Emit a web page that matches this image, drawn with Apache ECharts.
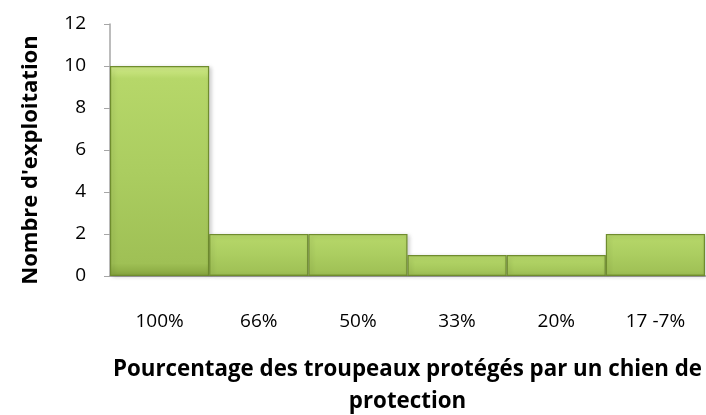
<!DOCTYPE html>
<html><head><meta charset="utf-8">
<script src="https://cdn.jsdelivr.net/npm/echarts@6/dist/echarts.min.js"></script>
<style>html,body{margin:0;padding:0;background:#fff}#c{width:706px;height:415px}</style>
</head><body><div id="c"></div>
<script>
const categories = ['100%', '66%', '50%', '33%', '20%', '17 -7%'];
const values = [10, 2, 2, 1, 1, 2];
const yTicks = [0, 2, 4, 6, 8, 10, 12];
const xTitle = 'Pourcentage des troupeaux protégés par un chien de\nprotection';
const yTitle = "Nombre d'exploitation";

const chart = echarts.init(document.getElementById('c'));
const font = "'Open Sans', 'Noto Sans', sans-serif";
chart.setOption({
  animation: false,
  grid: { left: 110, right: 1, top: 24, bottom: 139, containLabel: false, outerBoundsMode: 'none' },
  xAxis: {
    type: 'category', data: categories,
    axisLine: { lineStyle: { color: '#a6a6a6', width: 2 } },
    axisTick: { show: false },
    axisLabel: { color: '#000', fontSize: 19, fontFamily: font, margin: 36 },
    name: xTitle, nameLocation: 'middle', nameGap: 78,
    nameTextStyle: { color: '#000', fontSize: 22.3, fontWeight: 'bold', fontFamily: font, lineHeight: 32 }
  },
  yAxis: {
    type: 'value', min: 0, max: 12, interval: 2,
    axisLine: { show: true, lineStyle: { color: '#a6a6a6', width: 1.5 } },
    axisTick: { show: true, length: 6, lineStyle: { color: '#a6a6a6' } },
    splitLine: { show: false },
    axisLabel: { color: '#000', fontSize: 19, fontFamily: font, margin: 24,
      formatter: v => yTicks.includes(v) ? String(v) : '' },
    name: yTitle, nameLocation: 'middle', nameGap: 68, nameRotate: 90,
    nameTextStyle: { color: '#000', fontSize: 22, fontWeight: 'bold', fontFamily: font, padding: [0, 20, 0, 0] }
  },
  series: [{
    type: 'bar', data: values, barCategoryGap: '0%',
    itemStyle: {
      color: new echarts.graphic.LinearGradient(0, 0, 0, 1, [
        { offset: 0, color: '#d2ec8a' },
        { offset: 0.06, color: '#b6d769' },
        { offset: 0.5, color: '#abcd60' },
        { offset: 0.94, color: '#9fc055' },
        { offset: 1, color: '#86a53e' }
      ]),
      borderColor: '#6f8c2e', borderWidth: 1.2,
      shadowColor: 'rgba(0,0,0,0.18)', shadowBlur: 4, shadowOffsetX: 2, shadowOffsetY: 1
    }
  }]
});
</script></body></html>
